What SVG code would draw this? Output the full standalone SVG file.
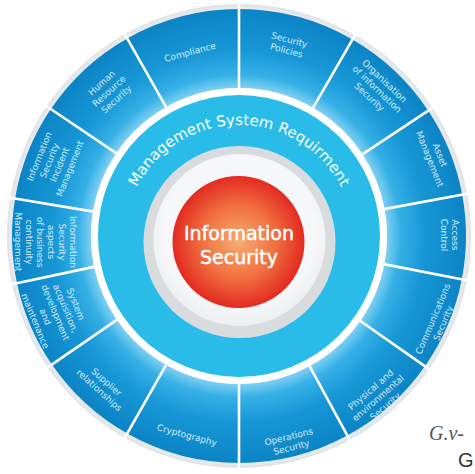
<svg xmlns="http://www.w3.org/2000/svg" width="475" height="474" viewBox="0 0 475 474">
<defs>
<radialGradient id="segGrad" gradientUnits="userSpaceOnUse" cx="239" cy="236" r="227">
<stop offset="0.652" stop-color="#7fd0f2"/>
<stop offset="0.71" stop-color="#36b0e6"/>
<stop offset="0.82" stop-color="#1797d6"/>
<stop offset="1" stop-color="#0c84c6"/>
</radialGradient>
<radialGradient id="outerGrad" gradientUnits="userSpaceOnUse" cx="239" cy="236" r="233">
<stop offset="0.96" stop-color="#f1f3f5"/>
<stop offset="1" stop-color="#dce1e5"/>
</radialGradient>
<radialGradient id="redGrad" cx="0.5" cy="0.5" r="0.5">
<stop offset="0" stop-color="#f6ad70"/>
<stop offset="0.55" stop-color="#f07040"/>
<stop offset="1" stop-color="#e42a21"/>
</radialGradient>
<radialGradient id="whiteGrad" cx="0.5" cy="0.45" r="0.55">
<stop offset="0.8" stop-color="#f6f7f9"/>
<stop offset="1" stop-color="#eceef1"/>
</radialGradient>
<path id="mgmtArc" d="M 135.6 189.6 A 115 115 0 0 1 342.4 189.6"/>
</defs>
<style>
.seg{fill:url(#segGrad);}
.lbl{font-family:"DejaVu Sans",sans-serif;font-size:9px;fill:#d3ecf8;text-anchor:middle;}
.div{stroke:#ffffff;stroke-width:2.6;}
</style>
<circle cx="239" cy="236" r="232" fill="url(#outerGrad)"/>

<g id="seg-security-policies"><path class="seg" d="M239 9 A227 227 0 0 1 352.5 39.4 L313 107.8 A148 148 0 0 0 239 88 Z"/>
<text class="lbl" transform="translate(288 45) rotate(15)"><tspan x="0" y="-2.3">Security</tspan><tspan x="0" y="8.7">Policies</tspan></text></g>

<g id="seg-organisation"><path class="seg" d="M352.5 39.4 A227 227 0 0 1 428.3 110.7 L362.4 154.3 A148 148 0 0 0 313 107.8 Z"/>
<text class="lbl" transform="translate(377 89) rotate(43.5)"><tspan x="0" y="-7.8">Organisation</tspan><tspan x="0" y="3.2">of information</tspan><tspan x="0" y="14.2">Security</tspan></text></g>

<g id="seg-asset"><path class="seg" d="M428.3 110.7 A227 227 0 0 1 462.2 194.6 L384.5 209 A148 148 0 0 0 362.4 154.3 Z"/>
<text class="lbl" transform="translate(435 157) rotate(68)"><tspan x="0" y="-2.3">Asset</tspan><tspan x="0" y="8.7">Management</tspan></text></g>

<g id="seg-access"><path class="seg" d="M462.2 194.6 A227 227 0 0 1 461.8 279.3 L384.3 264.2 A148 148 0 0 0 384.5 209 Z"/>
<text class="lbl" transform="translate(450 235) rotate(90)"><tspan x="0" y="-2.3">Access</tspan><tspan x="0" y="8.7">Control</tspan></text></g>

<g id="seg-communications"><path class="seg" d="M461.8 279.3 A227 227 0 0 1 424.96 366.2 L360.2 320.9 A148 148 0 0 0 384.3 264.2 Z"/>
<text class="lbl" transform="translate(438 321) rotate(-67)"><tspan x="0" y="-2.3">Communications</tspan><tspan x="0" y="8.7">Security</tspan></text></g>

<g id="seg-physical"><path class="seg" d="M424.96 366.2 A227 227 0 0 1 347.3 435.5 L309.6 366.1 A148 148 0 0 0 360.2 320.9 Z"/>
<text class="lbl" transform="translate(378 398) rotate(-41)"><tspan x="0" y="-7.8">Physical and</tspan><tspan x="0" y="3.2">environmental</tspan><tspan x="0" y="14.2">Security</tspan></text></g>

<g id="seg-operations"><path class="seg" d="M347.3 435.5 A227 227 0 0 1 239 463 L239 384 A148 148 0 0 0 309.6 366.1 Z"/>
<text class="lbl" transform="translate(290 442) rotate(-14)"><tspan x="0" y="-2.3">Operations</tspan><tspan x="0" y="8.7">Security</tspan></text></g>

<g id="seg-cryptography"><path class="seg" d="M239 463 A227 227 0 0 1 127.2 433.6 L166.1 364.8 A148 148 0 0 0 239 384 Z"/>
<text class="lbl" transform="translate(187 435) rotate(15)"><tspan x="0" y="3.2">Cryptography</tspan></text></g>

<g id="seg-supplier"><path class="seg" d="M127.2 433.6 A227 227 0 0 1 51.9 364.6 L117 319.8 A148 148 0 0 0 166.1 364.8 Z"/>
<text class="lbl" transform="translate(103 386) rotate(42)"><tspan x="0" y="-2.3">Supplier</tspan><tspan x="0" y="8.7">relationships</tspan></text></g>

<g id="seg-system"><path class="seg" d="M51.9 364.6 A227 227 0 0 1 17 283.2 L94.2 266.8 A148 148 0 0 0 117 319.8 Z"/>
<text class="lbl" transform="translate(55.5 312.5) rotate(67.5)"><tspan x="0" y="-18.8">System</tspan><tspan x="0" y="-7.8">acquisition,</tspan><tspan x="0" y="3.2">development</tspan><tspan x="0" y="14.2">and</tspan><tspan x="0" y="25.2">maintenance</tspan></text></g>

<g id="seg-continuity"><path class="seg" d="M17 283.2 A227 227 0 0 1 15.1 198.5 L93 211.6 A148 148 0 0 0 94.2 266.8 Z"/>
<text class="lbl" transform="translate(45.5 242) rotate(90)"><tspan x="0" y="-24.3">Information</tspan><tspan x="0" y="-13.3">Security</tspan><tspan x="0" y="-2.3">aspects</tspan><tspan x="0" y="8.7">of business</tspan><tspan x="0" y="19.7">continuity</tspan><tspan x="0" y="30.7">Management</tspan></text></g>

<g id="seg-incident"><path class="seg" d="M15.1 198.5 A227 227 0 0 1 50.8 109.1 L116.3 153.2 A148 148 0 0 0 93 211.6 Z"/>
<text class="lbl" transform="translate(54.5 162.5) rotate(-68.3)"><tspan x="0" y="-13.3">Information</tspan><tspan x="0" y="-2.3">Security</tspan><tspan x="0" y="8.7">Incident</tspan><tspan x="0" y="19.7">Management</tspan></text></g>

<g id="seg-human-resource"><path class="seg" d="M50.8 109.1 A227 227 0 0 1 127.2 38.4 L166.1 107.2 A148 148 0 0 0 116.3 153.2 Z"/>
<text class="lbl" transform="translate(109 91) rotate(-42)"><tspan x="0" y="-7.8">Human</tspan><tspan x="0" y="3.2">Resource</tspan><tspan x="0" y="14.2">Security</tspan></text></g>

<g id="seg-compliance"><path class="seg" d="M127.2 38.4 A227 227 0 0 1 239 9 L239 88 A148 148 0 0 0 166.1 107.2 Z"/>
<text class="lbl" transform="translate(190 52) rotate(-15)"><tspan x="0" y="3.2">Compliance</tspan></text></g>

<g id="dividers" class="div">
<line x1="239" y1="4" x2="239" y2="90" transform="rotate(0 239 236)"/>
<line x1="239" y1="4" x2="239" y2="90" transform="rotate(30 239 236)"/>
<line x1="239" y1="4" x2="239" y2="90" transform="rotate(56.5 239 236)"/>
<line x1="239" y1="4" x2="239" y2="90" transform="rotate(79.5 239 236)"/>
<line x1="239" y1="4" x2="239" y2="90" transform="rotate(101 239 236)"/>
<line x1="239" y1="4" x2="239" y2="90" transform="rotate(125 239 236)"/>
<line x1="239" y1="4" x2="239" y2="90" transform="rotate(151.5 239 236)"/>
<line x1="239" y1="4" x2="239" y2="90" transform="rotate(180 239 236)"/>
<line x1="239" y1="4" x2="239" y2="90" transform="rotate(209.5 239 236)"/>
<line x1="239" y1="4" x2="239" y2="90" transform="rotate(235.5 239 236)"/>
<line x1="239" y1="4" x2="239" y2="90" transform="rotate(258 239 236)"/>
<line x1="239" y1="4" x2="239" y2="90" transform="rotate(279.5 239 236)"/>
<line x1="239" y1="4" x2="239" y2="90" transform="rotate(304 239 236)"/>
<line x1="239" y1="4" x2="239" y2="90" transform="rotate(330.5 239 236)"/>
</g>

<g id="management-ring">
<circle cx="239" cy="236" r="148" fill="#ffffff"/>
<circle cx="239" cy="236" r="141" fill="#2abce9"/>
<text font-family="DejaVu Sans, sans-serif" font-size="15" fill="#ffffff" text-anchor="middle"><textPath href="#mgmtArc" startOffset="50%">Management System Requirment</textPath></text>
</g>

<g id="core">
<circle cx="239.5" cy="242" r="96" fill="#d9dcdf"/>
<circle cx="239.5" cy="240" r="86" fill="url(#whiteGrad)"/>
<circle cx="238.5" cy="242" r="66" fill="url(#redGrad)"/>
<text font-family="DejaVu Sans, sans-serif" font-size="19" fill="#ffffff" stroke="#ffffff" stroke-width="0.5" text-anchor="middle"><tspan x="239" y="240">Information</tspan><tspan x="239" y="264">Security</tspan></text>
</g>

<text x="429" y="440" font-family="Liberation Serif, serif" font-style="italic" font-size="20" fill="#555">G.v-</text>
<text x="458" y="467" font-family="Liberation Sans, sans-serif" font-size="20" fill="#333">G</text>
</svg>
